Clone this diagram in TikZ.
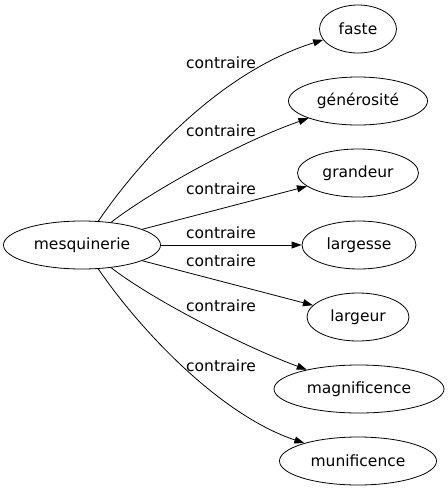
\documentclass[tikz,border=0pt]{standalone}
\usepackage{fontspec}
\setmainfont{DejaVu Sans}
\usetikzlibrary{shapes.geometric,arrows.meta}
\begin{document}
\begin{tikzpicture}[x=1pt,y=-1pt,
  word/.style={draw,ellipse,inner sep=0pt,minimum height=48pt,line width=0.8pt,font=\fontsize{15.5}{18}\selectfont},
  lbl/.style={font=\fontsize{15.5}{18}\selectfont,inner sep=0pt},
  edge/.style={line width=0.8pt,-{Triangle[length=10pt,width=7pt]}}]
\useasboundingbox (0,0) rectangle (448,491);
\node[word,minimum width=157pt] (m) at (82,245) {mesquinerie};
\node[word,minimum width=77pt] (a) at (358,29) {faste};
\node[word,minimum width=139pt] (b) at (358,101) {générosité};
\node[word,minimum width=121pt] (c) at (358,173) {grandeur};
\node[word,minimum width=114pt] (d) at (359,245) {largesse};
\node[word,minimum width=102pt] (e) at (358,317) {largeur};
\node[word,minimum width=170pt] (f) at (359,389) {magnificence};
\node[word,minimum width=157pt] (g) at (358,461) {munificence};
\draw[edge] (m) .. controls (140,160) and (220,72) .. (a);
\draw[edge] (m) .. controls (150,192) and (240,142) .. (b);
\draw[edge] (m) -- (c);
\draw[edge] (m) -- (d);
\draw[edge] (m) -- (e);
\draw[edge] (m) .. controls (150,298) and (240,345) .. (f);
\draw[edge] (m) .. controls (140,330) and (220,415) .. (g);
\node[lbl] (l1) at (221,63) {contraire};
\node[lbl] (l2) at (221,131) {contraire};
\node[lbl] (l3) at (221,189) {contraire};
\node[lbl] (l4) at (221,233) {contraire};
\node[lbl] (l5) at (221,261) {contraire};
\node[lbl] (l6) at (221,306) {contraire};
\node[lbl] (l7) at (221,366) {contraire};
\end{tikzpicture}
\end{document}
